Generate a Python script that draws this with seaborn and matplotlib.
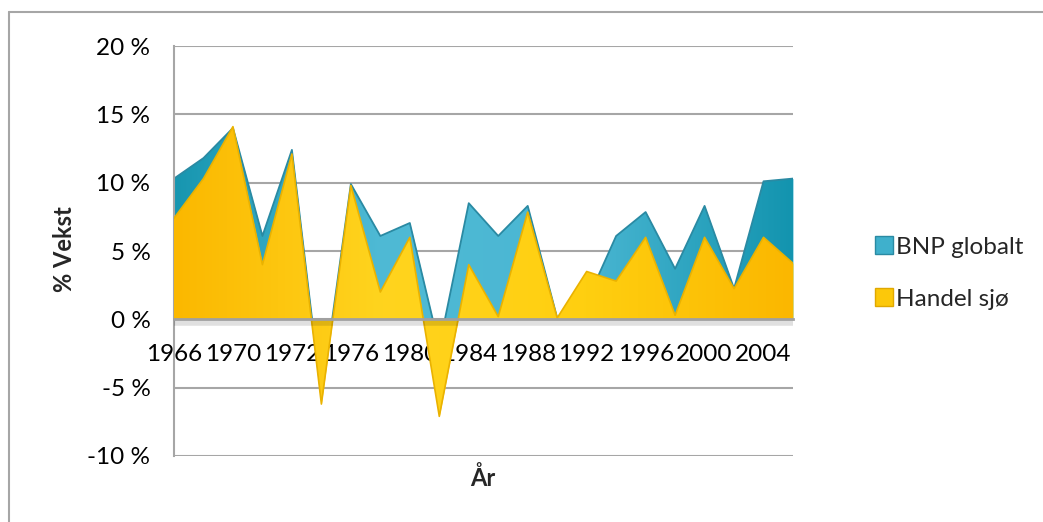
import numpy as np
import pandas as pd
import matplotlib
matplotlib.use("Agg")
import matplotlib.pyplot as plt
from matplotlib.colors import LinearSegmentedColormap
from matplotlib.patches import Patch
import seaborn as sns

years = ["1966", "1968", "1970", "1971", "1972", "1974", "1976", "1978", "1980", "1982",
         "1984", "1986", "1988", "1990", "1992", "1994", "1996", "1998", "2000", "2002",
         "2004", "2006"]
bnp_globalt = [10.3, 11.8, 14.0, 6.1, 12.4, -5.7, 9.9, 6.1, 7.05, -2.0,
               8.5, 6.1, 8.3, 0.1, 1.3, 6.1, 7.85, 3.7, 8.3, 2.25,
               10.1, 10.3]
handel_sjo = [7.4, 10.3, 14.1, 4.0, 12.1, -6.2, 9.8, 2.0, 6.0, -7.1,
              4.0, 0.2, 7.85, 0.1, 3.5, 2.8, 6.0, 0.3, 6.0, 2.25,
              6.0, 4.1]
yticks = [-10, -5, 0, 5, 10, 15, 20]

df = pd.DataFrame({"idx": np.arange(len(years)), "År": years,
                   "BNP globalt": bnp_globalt, "Handel sjø": handel_sjo})

sns.set_theme(style="white")
plt.rcParams["font.family"] = ["Lato", "DejaVu Sans"]

fig = plt.figure(figsize=(10.43, 5.22), dpi=100)
ax = fig.add_axes([174 / 1043, 1 - 456 / 522, (793 - 174) / 1043, (456 - 46) / 522])

x = df["idx"].to_numpy()
xmin, xmax = x.min(), x.max()
ymin, ymax = -10, 20

def grad_fill(yvals, colors, z):
    poly = ax.fill_between(x, 0, yvals, color=colors[1], linewidth=0, zorder=z)
    cmap = LinearSegmentedColormap.from_list("g", colors)
    grad = np.linspace(0, 1, 256).reshape(1, -1)
    im = ax.imshow(grad, extent=[xmin, xmax, ymin, ymax], aspect="auto",
                   cmap=cmap, zorder=z + 0.1, interpolation="bicubic")
    path = poly.get_paths()[0]
    im.set_clip_path(path, transform=ax.transData)
    return poly

teal = ["#1796b0", "#4fbad5", "#4ab6d2", "#1394af"]
yellow = ["#fbb800", "#ffd41e", "#ffcf10", "#fbb700"]

grad_fill(df["BNP globalt"], teal, 2)
sns.lineplot(data=df, x="idx", y="BNP globalt", ax=ax, color="#2a8aa3",
             linewidth=1.3, zorder=2.5, legend=False)
grad_fill(df["Handel sjø"], yellow, 3)
sns.lineplot(data=df, x="idx", y="Handel sjø", ax=ax, color="#eab200",
             linewidth=1.2, zorder=3.5, legend=False)

ax.set_xlim(xmin, xmax)
ax.set_ylim(ymin, ymax)
ax.set_yticks(yticks)
ax.set_yticklabels([f"{v} %" for v in yticks])
ax.yaxis.grid(True, color="#a6a6a6", linewidth=1.5, zorder=0)
ax.set_axisbelow(True)
ax.xaxis.grid(False)

ax.set_xticks(x[::2])
ax.set_xticklabels(years[::2])
ax.spines["bottom"].set_position(("data", 0))
ax.spines["bottom"].set_color("#a0a0a0")
ax.spines["bottom"].set_linewidth(2)
ax.spines["bottom"].set_zorder(5)
ax.spines["left"].set_color("#a6a6a6")
ax.spines["left"].set_linewidth(1.5)
ax.spines["top"].set_visible(False)
ax.spines["right"].set_visible(False)
ax.tick_params(axis="both", length=0, labelsize=17.5, colors="black")
ax.tick_params(axis="x", pad=18)
ax.tick_params(axis="y", pad=17)

# soft shadow under zero line
ax.axhline(-0.25, color="#000000", alpha=0.12, linewidth=4, zorder=4)

ax.set_xlabel("")
ax.set_ylabel("")
fig.text(64 / 1043, 1 - 249 / 522, "% Vekst", rotation=90, ha="center", va="center",
         fontsize=17, fontweight="bold")
fig.text(483 / 1043, 1 - 478 / 522, "År", ha="center", va="center",
         fontsize=17, fontweight="bold")

handles = [Patch(facecolor="#3fb0cc", edgecolor="#2a8aa3", label="BNP globalt"),
           Patch(facecolor="#fcc80a", edgecolor="#e0a800", label="Handel sjø")]
fig.legend(handles=handles, loc="center left", bbox_to_anchor=(865 / 1043, 1 - 273 / 522),
           frameon=False, fontsize=17.5, handlelength=0.75, handleheight=0.75,
           handletextpad=0.12, labelspacing=1.25, borderaxespad=0)

# chart outer border (top and left)
fig.add_artist(plt.Line2D([9 / 1043, 9 / 1043], [0, 1 - 12 / 522], color="#a6a6a6",
                          linewidth=1.5, transform=fig.transFigure))
fig.add_artist(plt.Line2D([9 / 1043, 1], [1 - 12 / 522, 1 - 12 / 522], color="#a6a6a6",
                          linewidth=1.5, transform=fig.transFigure))

fig.savefig("out.png", dpi=100)
